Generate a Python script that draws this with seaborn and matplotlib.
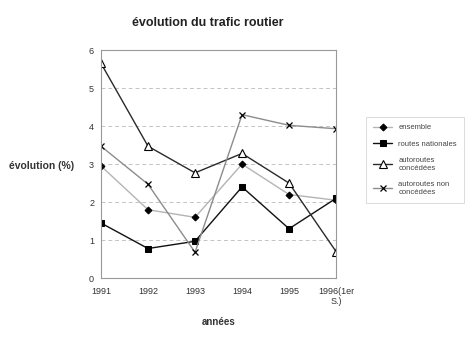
import matplotlib
matplotlib.use("Agg")
import matplotlib.pyplot as plt
import seaborn as sns
import pandas as pd

annees = ["1991", "1992", "1993", "1994", "1995", "1996(1er\nS.)"]
ensemble = [2.95, 1.8, 1.6, 3.0, 2.2, 2.05]
routes_nationales = [1.45, 0.78, 0.97, 2.4, 1.3, 2.1]
autoroutes_concedees = [5.65, 3.47, 2.77, 3.28, 2.5, 0.7]
autoroutes_non_concedees = [3.47, 2.47, 0.68, 4.3, 4.02, 3.93]

series = {
    "ensemble": ensemble,
    "routes nationales": routes_nationales,
    "autoroutes\nconcédées": autoroutes_concedees,
    "autoroutes non\nconcédées": autoroutes_non_concedees,
}

sns.set_theme(style="white")
plt.rcParams["font.family"] = ["Liberation Sans", "DejaVu Sans"]

styles = {
    "ensemble": dict(color="#b4b4b4", marker="D", markersize=3.5,
                     markerfacecolor="black", markeredgecolor="black"),
    "routes nationales": dict(color="#111111", marker="s", markersize=5,
                              markerfacecolor="black", markeredgecolor="black"),
    "autoroutes\nconcédées": dict(color="#2a2a2a", marker="^", markersize=6,
                                  markerfacecolor="white", markeredgecolor="black",
                                  markeredgewidth=0.8),
    "autoroutes non\nconcédées": dict(color="#8c8c8c", marker="x", markersize=5,
                                      markeredgecolor="black", markeredgewidth=0.9),
}

fig = plt.figure(figsize=(4.72, 3.38), dpi=100)
ax = fig.add_axes([0.214, 0.177, 0.498, 0.675])

handles = []
for name, vals in series.items():
    d = pd.DataFrame({"pos": range(len(vals)), "val": vals})
    sns.lineplot(data=d, x="pos", y="val", ax=ax, linewidth=1.0, **styles[name])
    handles.append(ax.get_lines()[-1])

ax.set_xlim(0, 5)
ax.set_ylim(0, 6)
ax.set_xticks(range(len(annees)))
ax.set_xticklabels(annees, fontsize=6.5, color="#333333")
ax.set_yticks(range(0, 7))
ax.set_yticklabels([str(i) for i in range(0, 7)], fontsize=6.5, color="#333333")
ax.tick_params(axis="x", length=0, pad=6)
ax.tick_params(axis="y", length=0, pad=5)
for y in range(1, 6):
    ax.axhline(y, color="#c4c4c4", linestyle=(0, (4, 3)), linewidth=0.7, zorder=0)
for s in ax.spines.values():
    s.set_color("#999999")
    s.set_linewidth(0.8)

ax.set_xlabel("années", fontsize=7, fontweight="bold", color="#333333", labelpad=8)
ax.set_ylabel("")
fig.text(0.02, 0.51, "évolution (%)", fontsize=7.5, fontweight="bold", color="#333333", va="center")
fig.text(0.44, 0.922, "évolution du trafic routier", fontsize=9, fontweight="bold",
         color="#222222", ha="center")

leg = fig.legend(handles, list(series.keys()), loc="upper left",
                 bbox_to_anchor=(0.768, 0.665), fontsize=5.5, frameon=True,
                 handlelength=2.5, labelspacing=1.2, borderpad=0.9, fancybox=False)
leg.get_frame().set_edgecolor("#cccccc")
leg.get_frame().set_linewidth(0.6)
for t in leg.get_texts():
    t.set_color("#444444")

fig.savefig("out.png", dpi=100)
